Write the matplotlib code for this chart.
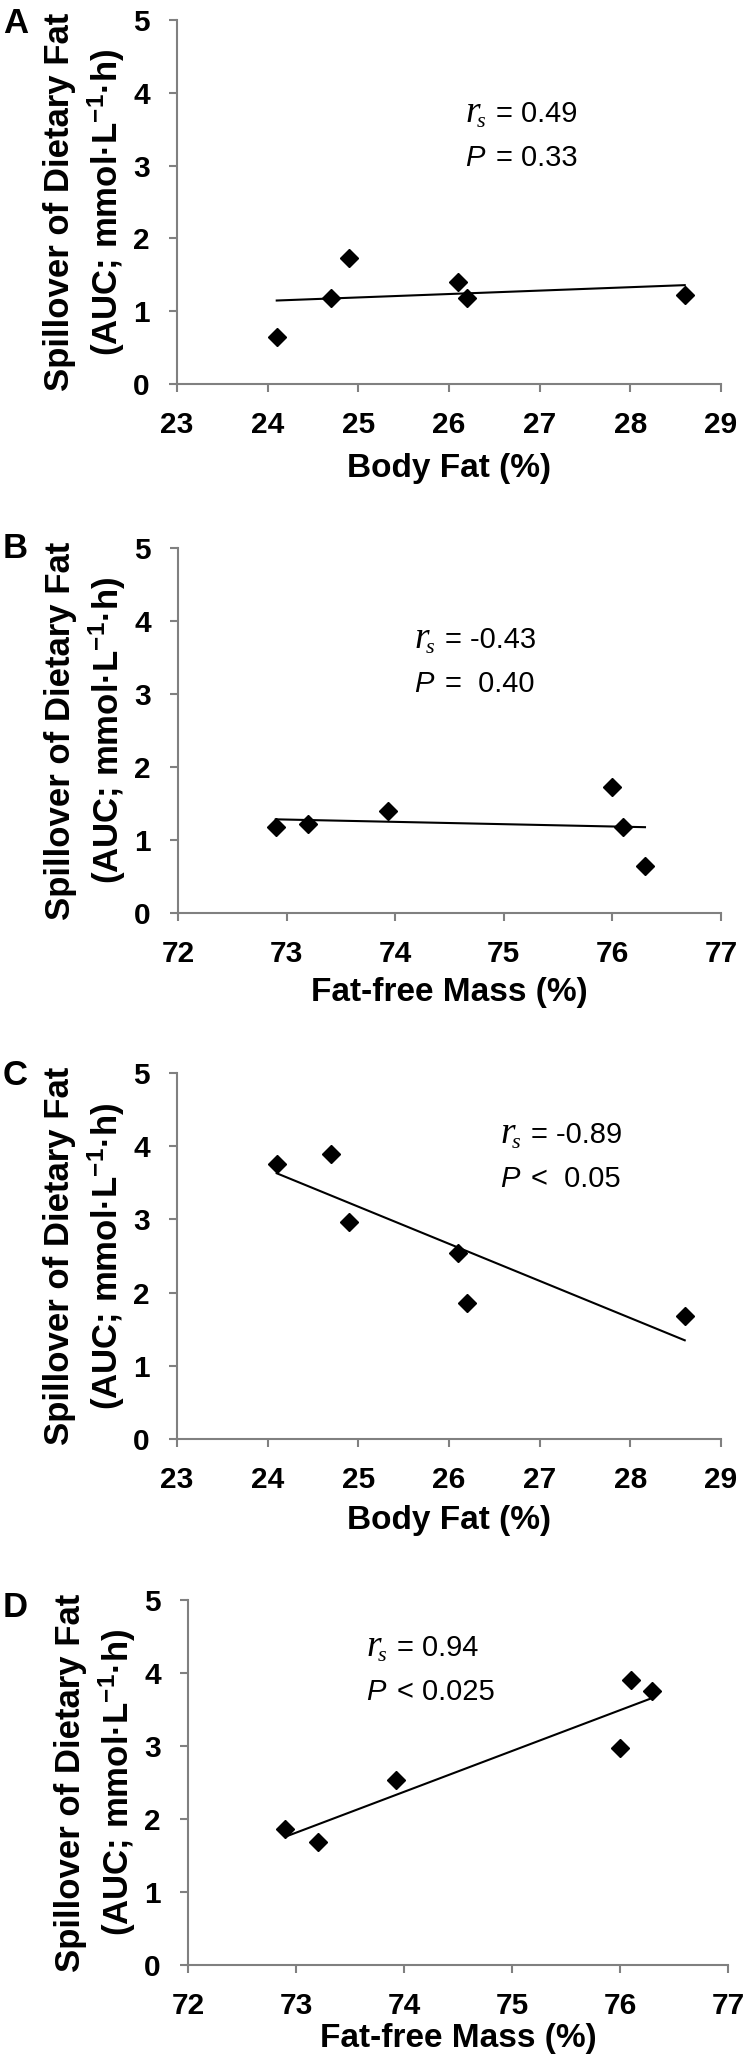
import numpy as np
import matplotlib
matplotlib.use("Agg")
import matplotlib.pyplot as plt

# values
body_fat = [24.1, 24.7, 24.9, 26.1, 26.2, 28.6]
fat_free = [72.9, 73.2, 73.93, 76.0, 76.1, 76.3]
spill_a = [0.64, 1.18, 1.73, 1.40, 1.18, 1.22]
spill_b = [1.18, 1.22, 1.40, 1.73, 1.18, 0.64]
spill_c = [3.76, 3.90, 2.97, 2.54, 1.86, 1.68]
spill_d = [1.86, 1.68, 2.54, 2.97, 3.90, 3.76]

bf_ticks = [23, 24, 25, 26, 27, 28, 29]
ffm_ticks = [72, 73, 74, 75, 76, 77]
y_ticks = [0, 1, 2, 3, 4, 5]

letters = ['A', 'B', 'C', 'D']
x_names = ['Body Fat (%)', 'Fat-free Mass (%)', 'Body Fat (%)', 'Fat-free Mass (%)']
rs_vals = ['= 0.49', '= -0.43', '= -0.89', '= 0.94']
p_vals = ['= 0.33', '=  0.40', '<  0.05', '< 0.025']
y_name = 'Spillover of Dietary Fat\n(AUC; mmol\u00b7L$^{\\mathbf{-1}}$\u00b7h)'

plt.rcParams['font.family'] = ['Liberation Sans', 'DejaVu Sans']
plt.rcParams['mathtext.fontset'] = 'custom'
plt.rcParams['mathtext.rm'] = 'Liberation Sans'
plt.rcParams['mathtext.it'] = 'Liberation Sans:italic'
plt.rcParams['mathtext.bf'] = 'Liberation Sans:bold'

W, H = 747, 2059
fig = plt.figure(figsize=(W / 100, H / 100), dpi=100)


def fx(x):
    return x / W


def fy(y):
    return 1 - y / H


# pixel boxes (left, right, top, bottom) of each panel
boxes = [(177, 721, 20, 384), (178, 721, 548, 913),
         (177, 721, 1073, 1439), (188, 728, 1600, 1965)]
xs = [body_fat, fat_free, body_fat, fat_free]
ys = [spill_a, spill_b, spill_c, spill_d]
xticks = [bf_ticks, ffm_ticks, bf_ticks, ffm_ticks]
letter_base = [33, 558, 1085, 1617]
note_pos = [(465, 122), (414, 648), (500, 1143), (366, 1656)]
xlabel_y = [469, 993, 1520, 2038]
grey = '#808080'

for i in range(4):
    l, r, t, b = boxes[i]
    ax = fig.add_axes([fx(l), fy(b), (r - l) / W, (b - t) / H])
    x = np.array(xs[i])
    y = np.array(ys[i])
    ax.plot(x, y, 'D', color='black', ms=9, zorder=3, clip_on=False)
    # linear trend line like excel
    fit = np.polyfit(x, y, 1)
    xx = np.array([x.min(), x.max()])
    ax.plot(xx, np.polyval(fit, xx), color='black', lw=1.5)

    ax.set_xlim(xticks[i][0], xticks[i][-1])
    ax.set_ylim(0, 5)
    ax.set_xticks(xticks[i])
    ax.set_xticklabels([str(v) for v in xticks[i]], fontweight='bold')
    ax.set_yticks(y_ticks)
    ax.set_yticklabels([str(v) for v in y_ticks], fontweight='bold')
    for s in ['top', 'right']:
        ax.spines[s].set_visible(False)
    for s in ['left', 'bottom']:
        ax.spines[s].set_color(grey)
        ax.spines[s].set_linewidth(1.5)
    ax.tick_params(direction='out', length=6, width=1.5, color=grey,
                   labelsize=21.5, pad=13.5)

    # axis titles
    fig.text(fx((l + r) / 2), fy(xlabel_y[i]), x_names[i], ha='center',
             va='center', fontsize=24, fontweight='bold')
    fig.text(fx(l - 92), fy((t + b) / 2), y_name, rotation=90, ha='center',
             va='center', multialignment='center', fontsize=25,
             fontweight='bold', linespacing=1.3)
    fig.text(fx(3), fy(letter_base[i]), letters[i], fontsize=25,
             fontweight='bold', va='baseline')

    # correlation note
    nx, ny = note_pos[i]
    fig.text(fx(nx), fy(ny), 'r', family='Liberation Serif', style='italic',
             fontsize=27, va='baseline')
    fig.text(fx(nx + 12), fy(ny + 5), 's', family='Liberation Serif',
             style='italic', fontsize=16, va='baseline')
    fig.text(fx(nx + 31), fy(ny), rs_vals[i], fontsize=21, va='baseline')
    fig.text(fx(nx), fy(ny + 44), 'P', style='italic', fontsize=21,
             va='baseline')
    fig.text(fx(nx + 31), fy(ny + 44), p_vals[i], fontsize=21, va='baseline')

fig.savefig('out.png', dpi=100)
